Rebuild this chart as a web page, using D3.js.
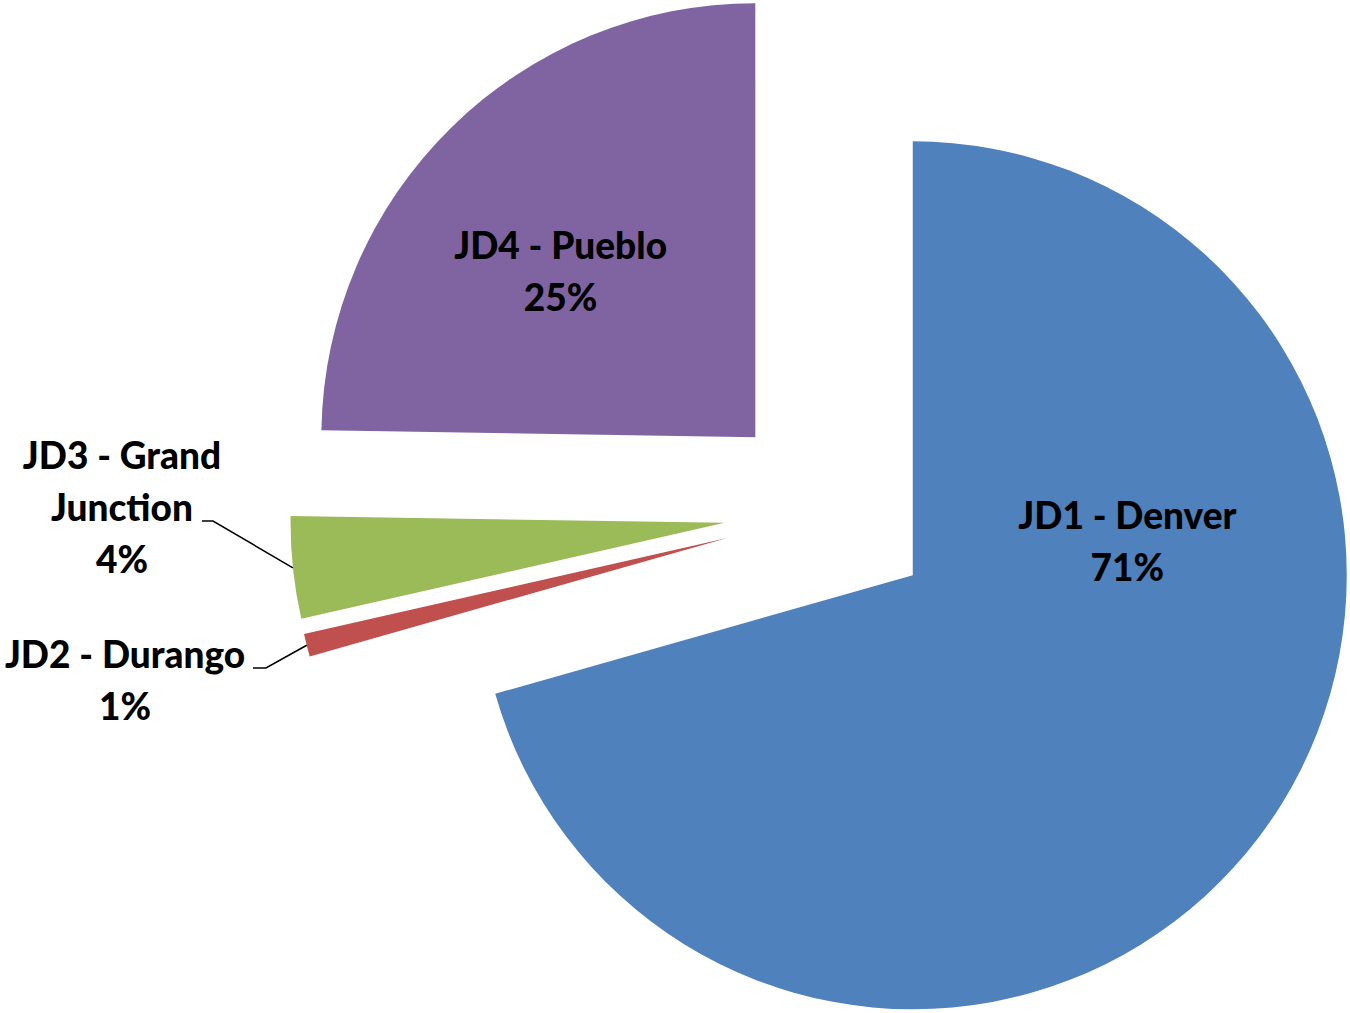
<!DOCTYPE html>
<html>
<head>
<meta charset="utf-8">
<script src="https://cdn.jsdelivr.net/npm/d3@7"></script>
<style>
  html, body { margin: 0; padding: 0; background: #fff; }
  .lbl { font-family: Lato, "Open Sans", sans-serif; font-weight: 900; font-size: 37px; fill: #000; }
</style>
</head>
<body>
<div class="vis-pie"></div>
<script>
// data
const districts = ["JD1 - Denver", "JD2 - Durango", "JD3 - Grand Junction", "JD4 - Pueblo"];
const shares = [70.6, 0.85, 3.8, 24.75];
const colors = ["#4F81BD", "#C0504D", "#9BBB59", "#8064A2"];
// label text lines (the chart wraps the GJ name)
const labelLines = [["JD1 - Denver"], ["JD2 - Durango"], ["JD3 - Grand", "Junction"], ["JD4 - Pueblo"]];

const width = 1350, height = 1013;
const cx = 829, cy = 512, radius = 434, explode = 105;
const lineH = 52;

// where each label sits: inside = polar (deg, px) from slice apex; outside = text centre + leader elbow
const labelPlace = [
  { inside: true, ang: 81.5, dist: 217 },
  { inside: false, x: 125, y: 668, elbow: [253, 266, 668] },
  { inside: false, x: 122, y: 469, elbow: [202, 213, 521] },
  { inside: true, ang: 310.2, dist: 255 }
];

const svg = d3.select(".vis-pie")
  .append("svg")
  .attr("width", width)
  .attr("height", height);

const pie = d3.pie().sort(null).value((d) => d)(shares);
const arc = d3.arc().innerRadius(0).outerRadius(radius);
const total = d3.sum(shares);

const rad = (deg) => (deg * Math.PI) / 180;

let slices = svg.append("g").attr("transform", "translate(" + cx + "," + cy + ")");

pie.forEach((p, i) => {
  const mid = (p.startAngle + p.endAngle) / 2;
  const [ox, oy] = d3.pointRadial(mid, explode);
  const g = slices.append("g").attr("transform", "translate(" + ox + "," + oy + ")");
  g.append("path").attr("d", arc(p)).attr("fill", colors[i]);

  const pct = Math.round((shares[i] / total) * 100) + "%";
  const lines = labelLines[i].concat([pct]);
  const lp = labelPlace[i];

  if (lp.inside) {
    const [lx, ly] = d3.pointRadial(rad(lp.ang), lp.dist);
    const t = g.append("text").attr("class", "lbl").attr("text-anchor", "middle");
    lines.forEach((s, k) => {
      t.append("tspan")
        .attr("x", lx)
        .attr("y", ly + (k - (lines.length - 1) / 2) * lineH + 12)
        .text(s);
    });
  } else {
    // leader line from slice edge to elbow
    const [ex, ey] = d3.pointRadial(mid, radius);
    const edge = [cx + ox + ex, cy + oy + ey];
    svg.append("path")
      .attr("d", d3.line()([[lp.elbow[0], lp.elbow[2]], [lp.elbow[1], lp.elbow[2]], edge]))
      .attr("fill", "none")
      .attr("stroke", "#000")
      .attr("stroke-width", 1.5);
    const t = svg.append("text").attr("class", "lbl").attr("text-anchor", "middle");
    lines.forEach((s, k) => {
      t.append("tspan").attr("x", lp.x).attr("y", lp.y + k * lineH).text(s);
    });
  }
});
</script>
</body>
</html>
